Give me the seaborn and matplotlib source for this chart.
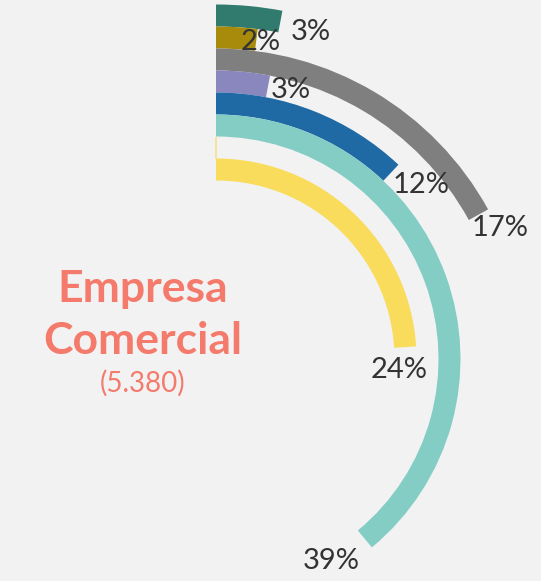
import numpy as np
import matplotlib
matplotlib.use("Agg")
import matplotlib.pyplot as plt
import seaborn as sns

# rings listed from the outside in
pct = [3, 2, 17, 3, 12, 39, 0, 24]
ring_colors = ["#317A6E", "#A88B0B", "#7F7F7F", "#8A86BE",
               "#1F6AA5", "#83CDC5", "#F7E08A", "#F9DC5C"]
title_lines = ["Empresa", "Comercial"]
total_txt = "(5.380)"

# label nudge in px: along the arc past its end, and outwards from the centre
label_along = [32, 5, 22, 23, 30, 40, 0, 23]
label_out = [-4, -1, 13, 1, 12, -5, 0, -7]

BG = "#F2F2F2"
sns.set_theme(style="white", rc={"axes.facecolor": BG, "figure.facecolor": BG})
plt.rcParams["font.family"] = ["Lato", "DejaVu Sans"]

W, H = 541, 581
cx, cy = 216, 359      # centre of the rings in pixels (from top-left)
R = 360
fig = plt.figure(figsize=(W / 100, H / 100), dpi=100)
ax = fig.add_axes([(cx - R) / W, (H - cy - R) / H, 2 * R / W, 2 * R / H],
                  projection="polar")
ax.set_theta_zero_location("N")
ax.set_theta_direction(-1)
ax.patch.set_visible(False)

n = len(pct)
ring_w = 22
radii = 343.5 - ring_w * np.arange(n)
theta = np.deg2rad(np.array(pct) / 100 * 360)
lws = [1.2 if v == 0 else 0 for v in pct]
ax.barh(radii, theta, left=0, height=ring_w, color=ring_colors,
        edgecolor=ring_colors, linewidth=lws)
ax.set_ylim(0, R)
ax.set_axis_off()

for v, r, th, a, b in zip(pct, radii, theta, label_along, label_out):
    if v == 0:
        continue
    # screen directions (y up): tangent (cos, -sin), outward (sin, cos)
    dx = (a * np.cos(th) + b * np.sin(th)) * 0.72
    dy = (-a * np.sin(th) + b * np.cos(th)) * 0.72
    ax.annotate(f"{v}%", xy=(th, r), xytext=(dx, dy), textcoords="offset points",
                ha="center", va="center", fontsize=21, color="#333333")

tx = 143 / W
fig.text(tx, (H - 302) / H, title_lines[0], ha="center", va="baseline",
         fontsize=32, fontweight="bold", color="#F47A6B")
fig.text(tx, (H - 354) / H, title_lines[1], ha="center", va="baseline",
         fontsize=32, fontweight="bold", color="#F47A6B")
fig.text(tx, (H - 392) / H, total_txt, ha="center", va="baseline",
         fontsize=20, color="#F47A6B")

fig.savefig("out.png", dpi=100, facecolor=BG)
